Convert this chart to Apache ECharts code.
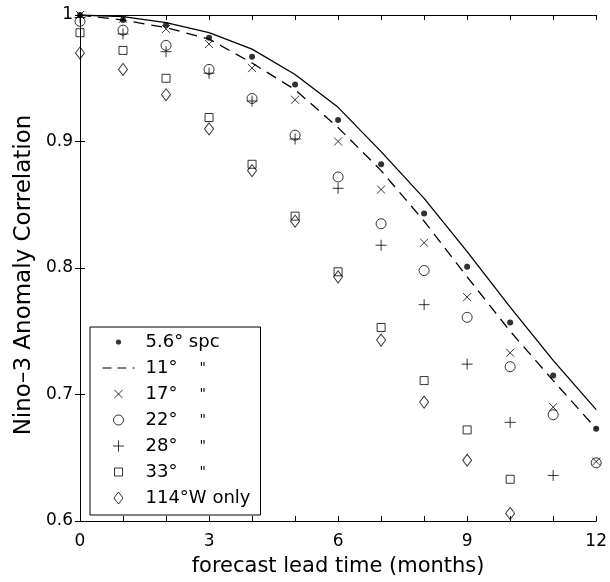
<!DOCTYPE html>
<html>
<head>
<meta charset="utf-8">
<script src="https://cdn.jsdelivr.net/npm/echarts@6/dist/echarts.min.js"></script>
<style>
html,body{margin:0;padding:0;background:#fff;}
#chart{width:610px;height:582px;}
</style>
</head>
<body>
<div id="chart"></div>
<script>
// ---- data ----
var months = [0, 1, 2, 3, 4, 5, 6, 7, 8, 9, 10, 11, 12];
var xTickLabels = ['0', '3', '6', '9', '12'];
var yTickLabels = ['0.6', '0.7', '0.8', '0.9', '1'];

var fullModel = [1.000, 0.9987, 0.994, 0.986, 0.973, 0.953, 0.927, 0.892, 0.855, 0.813, 0.769, 0.727, 0.688];
var spc56 = [1.000, 0.996, 0.992, 0.982, 0.967, 0.945, 0.917, 0.882, 0.843, 0.801, 0.757, 0.715, 0.673];
var deg11 = [1.000, 0.996, 0.990, 0.981, 0.962, 0.941, 0.911, 0.877, 0.837, 0.793, 0.750, 0.711, 0.673];
var deg17 = [1.000, 0.997, 0.989, 0.977, 0.958, 0.933, 0.900, 0.862, 0.820, 0.777, 0.733, 0.690, 0.647];
var deg22 = [0.995, 0.988, 0.976, 0.957, 0.934, 0.905, 0.872, 0.835, 0.798, 0.761, 0.722, 0.684, 0.646];
var deg28 = [0.998, 0.985, 0.971, 0.954, 0.932, 0.902, 0.863, 0.818, 0.771, 0.724, 0.678, 0.636, null];
var deg33 = [0.986, 0.972, 0.950, 0.919, 0.882, 0.841, 0.797, 0.753, 0.711, 0.672, 0.633, null, null];
var w114 = [0.970, 0.957, 0.937, 0.910, 0.877, 0.837, 0.793, 0.743, 0.694, 0.648, 0.606, null, null];

var seriesNames = ['5.6° spc', '11°', '17°', '22°', '28°', '33°', '114°W only'];
var xTitle = 'forecast lead time (months)';
var yTitle = 'Nino\u20133 Anomaly Correlation';

// ---- helpers ----
function pairs(arr) {
  var out = [];
  for (var i = 0; i < months.length; i++) {
    if (arr[i] !== null && arr[i] !== undefined) out.push([months[i], arr[i]]);
  }
  return out;
}
var hollow = {color: 'rgba(0,0,0,0)', borderColor: '#000', borderWidth: 1};
var FONT = 'DejaVu Sans';

var chart = echarts.init(document.getElementById('chart'), null, {renderer: 'canvas'});

var axisCommon = {
  type: 'value',
  axisLine: {show: true, lineStyle: {color: '#000', width: 1}},
  axisTick: {show: true, inside: true, length: 5, lineStyle: {color: '#000', width: 1}},
  splitLine: {show: false}
};

var option = {
  animation: false,
  backgroundColor: '#fff',
  textStyle: {fontFamily: FONT, color: '#000'},
  grid: {left: 80, right: 11, top: 15, bottom: 57, containLabel: false},
  xAxis: [
    Object.assign({}, axisCommon, {
      min: 0, max: 12, interval: 1, position: 'bottom',
      name: xTitle, nameLocation: 'middle', nameGap: 35,
      nameTextStyle: {fontFamily: FONT, fontSize: 21, color: '#000'},
      axisLabel: {
        margin: 12, fontFamily: FONT, fontSize: 17, color: '#000',
        formatter: function (v) {
          var s = String(Math.round(v));
          return xTickLabels.indexOf(s) >= 0 ? s : '';
        }
      }
    }),
    Object.assign({}, axisCommon, {
      min: 0, max: 12, interval: 1, position: 'top',
      axisLabel: {show: false}
    })
  ],
  yAxis: [
    Object.assign({}, axisCommon, {
      min: 0.6, max: 1, interval: 0.1, position: 'left',
      name: yTitle, nameLocation: 'middle', nameGap: 39, nameRotate: 90,
      nameTextStyle: {fontFamily: FONT, fontSize: 23, color: '#000', padding: [0, 14, 0, 0]},
      axisLabel: {
        margin: 7, fontFamily: FONT, fontSize: 17, color: '#000',
        formatter: function (v) {
          var s = Math.abs(v - 1) < 1e-9 ? '1' : v.toFixed(1);
          return yTickLabels.indexOf(s) >= 0 ? s : '';
        }
      }
    }),
    Object.assign({}, axisCommon, {
      min: 0.6, max: 1, interval: 0.1, position: 'right',
      axisLabel: {show: false}
    })
  ],
  legend: {
    orient: 'vertical',
    left: 90, top: 327,
    padding: [6, 5, 8, 12],
    borderColor: '#000', borderWidth: 1, backgroundColor: '#fff',
    itemWidth: 32, itemHeight: 14, itemGap: 8,
    selectedMode: false,
    textStyle: {
      fontFamily: FONT, fontSize: 18, color: '#000', lineHeight: 14,
      rich: {
        a: {fontFamily: FONT, fontSize: 18, color: '#000', width: 54, padding: [0, 0, 0, 6], lineHeight: 14},
        b: {fontFamily: FONT, fontSize: 14, color: '#000', width: 56, lineHeight: 14},
        w: {fontFamily: FONT, fontSize: 18, color: '#000', width: 110, padding: [0, 0, 0, 6], lineHeight: 14}
      }
    },
    formatter: function (name) {
      if (name === seriesNames[0] || name === seriesNames[6]) return '{w|' + name + '}';
      return '{a|' + name + '}{b|"}';
    },
    data: [
      {name: seriesNames[0], icon: 'path://M0,0M14,14M9.6,7A2.6,2.6,0,1,1,4.4,7A2.6,2.6,0,1,1,9.6,7Z',
        itemStyle: {color: '#000', borderWidth: 0}},
      {name: seriesNames[1], itemStyle: {color: 'rgba(0,0,0,0)', borderWidth: 0},
        lineStyle: {color: '#000', width: 1, type: [9, 6]}},
      {name: seriesNames[2], icon: 'path://M0,0M14,14M3,3L11,11M11,3L3,11', itemStyle: hollow},
      {name: seriesNames[3], icon: 'path://M0,0M14,14M12,7A5,5,0,1,1,2,7A5,5,0,1,1,12,7Z', itemStyle: hollow},
      {name: seriesNames[4], icon: 'path://M0,0M14,14M7,1.5L7,12.5M1.5,7L12.5,7', itemStyle: hollow},
      {name: seriesNames[5], icon: 'path://M0,0M14,14M3,3L11,3L11,11L3,11Z', itemStyle: hollow},
      {name: seriesNames[6], icon: 'path://M0,0M14,14M7,1L11.5,7L7,13L2.5,7Z', itemStyle: hollow}
    ]
  },
  series: [
    {
      name: 'full', type: 'line', data: pairs(fullModel), symbol: 'none',
      lineStyle: {color: '#000', width: 1.3}, z: 2, silent: true
    },
    {
      name: seriesNames[1], type: 'line', data: pairs(deg11), symbol: 'none',
      lineStyle: {color: '#000', width: 1.3, type: [11, 7]}, itemStyle: {color: '#000'}, z: 2, silent: true
    },
    {
      name: seriesNames[0], type: 'scatter', data: pairs(spc56), symbol: 'circle', symbolSize: 6,
      itemStyle: {color: '#000'}, z: 5, silent: true
    },
    {
      name: seriesNames[2], type: 'scatter', data: pairs(deg17),
      symbol: 'path://M0,0L10,10M10,0L0,10', symbolSize: 8, itemStyle: hollow, z: 4, silent: true
    },
    {
      name: seriesNames[3], type: 'scatter', data: pairs(deg22),
      symbol: 'circle', symbolSize: 10, itemStyle: hollow, z: 4, silent: true
    },
    {
      name: seriesNames[4], type: 'scatter', data: pairs(deg28),
      symbol: 'path://M5,0L5,10M0,5L10,5', symbolSize: 11, itemStyle: hollow, z: 4, silent: true
    },
    {
      name: seriesNames[5], type: 'scatter', data: pairs(deg33),
      symbol: 'rect', symbolSize: 8, itemStyle: hollow, z: 4, silent: true
    },
    {
      name: seriesNames[6], type: 'scatter', data: pairs(w114),
      symbol: 'diamond', symbolSize: [9, 12], itemStyle: hollow, z: 4, silent: true
    }
  ]
};
chart.setOption(option);
</script>
</body>
</html>
